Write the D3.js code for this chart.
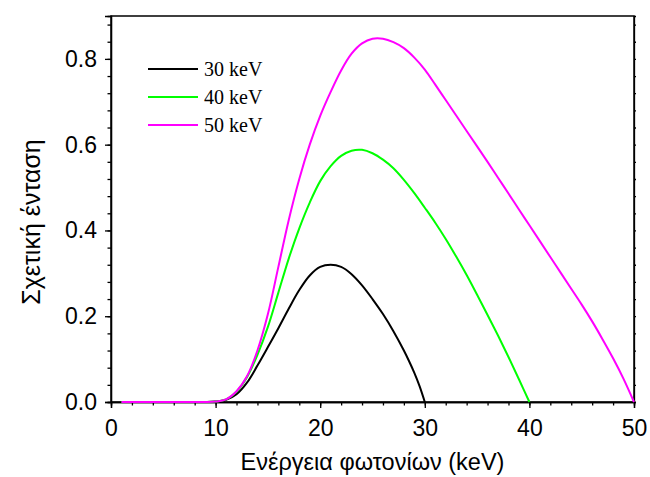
<!DOCTYPE html>
<html lang="el">
<head>
<meta charset="utf-8">
<title>spectra</title>
<script src="https://cdn.jsdelivr.net/npm/d3@7"></script>
<style>
  body { margin: 0; background: #fff; }
  .tick text { font-family: "Liberation Sans", Arial, sans-serif; font-size: 23px; fill: #000; }
  .axis path, .axis line { stroke: #000; stroke-width: 1.3; }
  .lbl { font-family: "Liberation Sans", Arial, sans-serif; fill: #000; }
  .legend text { font-family: "Liberation Serif", "Times New Roman", serif; font-size: 20px; fill: #000; }
</style>
</head>
<body>
<script>
// energies (keV) and relative intensity
var e30 = [1,2,3,4,5,6,7,8,9,10,11,12,13,14,15,16,17,18,19,20,21,22,23,24,25,26,27,28,28.5,29,29.5,30];
var i30 = [0,0,0,0,0,0,0,0,0,0.001,0.005,0.018,0.045,0.085,0.128,0.172,0.218,0.261,0.295,0.315,0.32,0.315,0.298,0.272,0.24,0.205,0.165,0.12,0.095,0.068,0.037,0];

var e40 = [1,2,3,4,5,6,7,8,9,10,11,12,13,14,15,16,17,18,19,20,21,22,23,24,25,26,27,28,29,30,31,32,33,34,35,36,37,38,39,40];
var i40 = [0,0,0,0,0,0,0,0,0,0.001,0.006,0.024,0.058,0.11,0.175,0.255,0.335,0.405,0.465,0.515,0.55,0.574,0.586,0.588,0.58,0.565,0.545,0.518,0.487,0.453,0.418,0.38,0.339,0.296,0.25,0.203,0.155,0.105,0.053,0];

var e50 = [1,2,3,4,5,6,7,8,9,10,11,12,13,14,15,16,17,18,19,20,21,22,23,24,25,26,27,28,29,30,31,32,33,34,35,36,37,38,39,40,41,42,43,44,45,46,47,48,49,50];
var i50 = [0,0,0,0,0,0,0,0,0,0.001,0.006,0.025,0.06,0.12,0.205,0.315,0.425,0.52,0.6,0.667,0.723,0.773,0.812,0.836,0.847,0.847,0.839,0.825,0.803,0.775,0.74,0.704,0.668,0.632,0.596,0.56,0.523,0.486,0.449,0.412,0.375,0.338,0.301,0.264,0.227,0.188,0.146,0.102,0.054,0];

var seriesNames = ["30 keV", "40 keV", "50 keV"];
var seriesColors = ["#000000", "#00ff00", "#ff00ff"];
var xTicks = [0, 10, 20, 30, 40, 50];
var yTicks = [0, 0.2, 0.4, 0.6, 0.8];

var margin = {top: 16, right: 16, bottom: 75, left: 111},
    width = 650 - margin.left - margin.right,
    height = 477 - margin.top - margin.bottom;

var svg = d3.select("body").append("svg")
    .attr("width", 650).attr("height", 477)
  .append("g")
    .attr("transform", "translate(" + margin.left + "," + margin.top + ")");

var x = d3.scaleLinear().domain([0, 50]).range([0, width]);
var y = d3.scaleLinear().domain([0, 0.9]).range([height, 0]);

// minor ticks
svg.append("g").attr("class", "axis")
   .attr("transform", "translate(0," + height + ")")
   .call(d3.axisBottom(x).tickValues(d3.range(0, 51, 2)).tickSize(3.5).tickFormat(""));
svg.append("g").attr("class", "axis")
   .call(d3.axisLeft(y).tickValues(d3.range(0, 0.9, 0.04)).tickSize(3.5).tickFormat(""));

// major ticks
svg.append("g").attr("class", "axis")
   .attr("transform", "translate(0," + height + ")")
   .call(d3.axisBottom(x).tickValues(xTicks).tickSize(6).tickPadding(12).tickFormat(d3.format("d")));
svg.append("g").attr("class", "axis")
   .call(d3.axisLeft(y).tickValues(yTicks).tickSize(6).tickPadding(8).tickFormat(d3.format(".1f")));

// mirrored right ticks
svg.append("g").attr("class", "axis")
   .attr("transform", "translate(" + width + ",0)")
   .call(d3.axisRight(y).tickValues(d3.range(0, 0.9, 0.04)).tickSize(2).tickFormat(""))
   .selectAll("line").attr("stroke", "#888");

// frame
svg.append("rect")
   .attr("width", width).attr("height", height)
   .attr("fill", "none").attr("stroke", "#000").attr("stroke-width", 1.5);

var line = d3.line()
   .x(function(d) { return x(d[0]); })
   .y(function(d) { return y(Math.max(0, d[1])); })
   .curve(d3.curveCatmullRom.alpha(0.5));

var data = [d3.zip(e30, i30), d3.zip(e40, i40), d3.zip(e50, i50)];

svg.selectAll(".series")
   .data(data)
   .enter().append("path")
   .attr("class", "series")
   .attr("fill", "none")
   .attr("stroke", function(d, i) { return seriesColors[i]; })
   .attr("stroke-width", 2)
   .attr("d", line);

// legend
var legend = svg.selectAll(".legend")
   .data(seriesNames)
   .enter().append("g")
   .attr("class", "legend")
   .attr("transform", function(d, i) { return "translate(37," + (53 + i * 28) + ")"; });

legend.append("line")
   .attr("x1", 0).attr("x2", 50)
   .attr("stroke", function(d, i) { return seriesColors[i]; })
   .attr("stroke-width", 2);

legend.append("text")
   .attr("x", 56).attr("y", 7)
   .text(function(d) { return d; });

// axis labels
svg.append("text")
   .attr("class", "lbl")
   .style("font-size", "23.5px")
   .attr("x", width / 2).attr("y", height + 68)
   .attr("text-anchor", "middle")
   .text("Ενέργεια φωτονίων (keV)");

svg.append("text")
   .attr("class", "lbl")
   .style("font-size", "25px")
   .attr("transform", "translate(" + (40 - margin.left) + "," + 206 + ") rotate(-90)")
   .attr("text-anchor", "middle")
   .text("Σχετική ένταση");
</script>
</body>
</html>
